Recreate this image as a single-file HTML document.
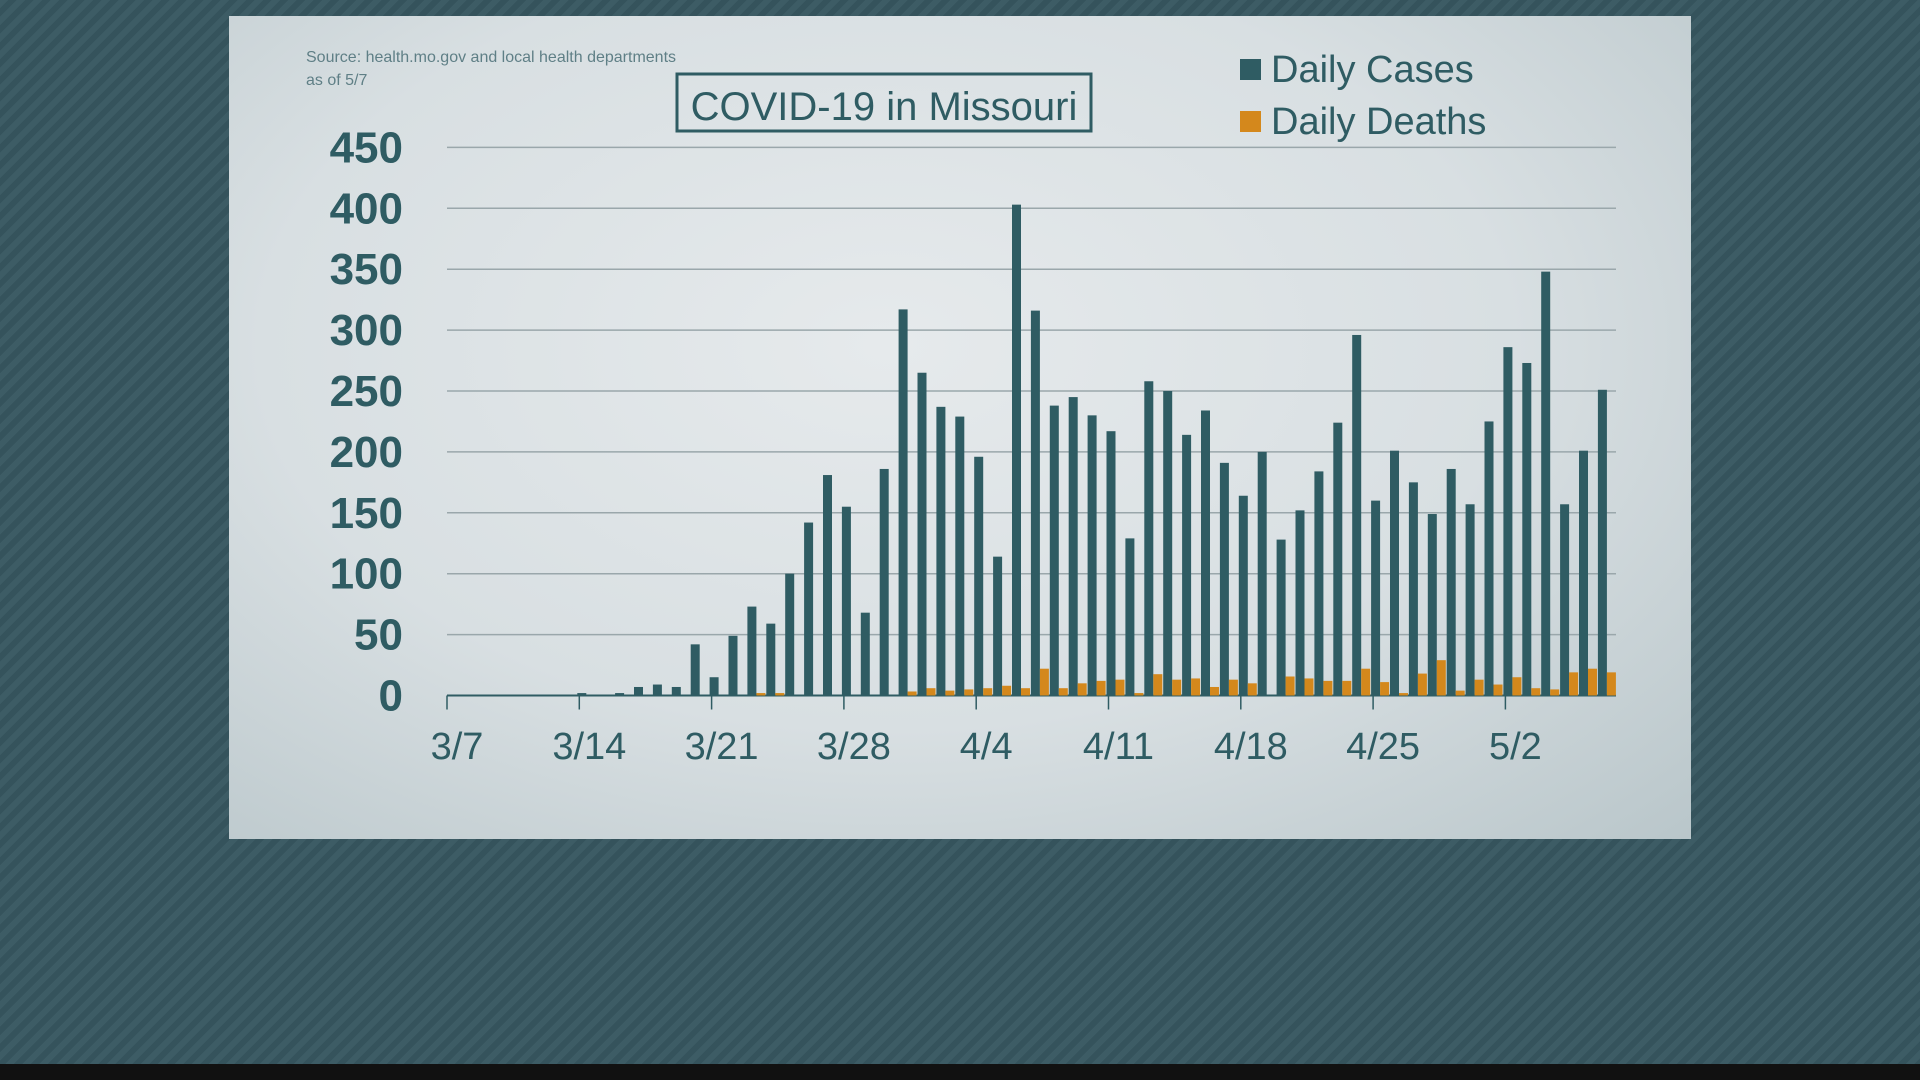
<!DOCTYPE html>
<html><head><meta charset="utf-8"><style>
html,body{margin:0;padding:0;width:1920px;height:1080px;overflow:hidden;font-family:"Liberation Sans",sans-serif}
body{background:repeating-linear-gradient(135deg,#3d5c65 0 6px,#35535c 6px 12px);}
#bottom{position:absolute;left:0;top:1064px;width:1920px;height:16px;background:#111}
#panel{position:absolute;left:229px;top:16px;width:1462px;height:823px;
background:radial-gradient(ellipse at 45% 40%,#e6eaec 0%,#d8dfe2 55%,#b9c6ca 100%);}
svg{position:absolute;left:0;top:0}
</style></head><body>
<div id="bottom"></div>
<div id="panel"></div>
<svg id="s" width="1920" height="1080" xmlns="http://www.w3.org/2000/svg">
<g font-family="Liberation Sans, sans-serif">
<text x="306" y="62" font-size="16" fill="#5f7f86">Source: health.mo.gov and local health departments</text>
<text x="306" y="85" font-size="16" fill="#5f7f86">as of 5/7</text>
<rect x="677" y="74" width="414" height="57" fill="none" stroke="#2f5c63" stroke-width="3"/>
<text x="884" y="120" font-size="40" fill="#2f5c63" text-anchor="middle">COVID-19 in Missouri</text>
<rect x="1240" y="59" width="21" height="21" fill="#2f5c63"/>
<text x="1271" y="82" font-size="38" fill="#2f5c63">Daily Cases</text>
<rect x="1240" y="111" width="21" height="21" fill="#d4881c"/>
<text x="1271" y="134" font-size="38" fill="#2f5c63">Daily Deaths</text>
<g id="grid"></g><g id="bars"></g><g id="lab" font-size="44" font-weight="bold" fill="#2f5c63"></g>
</g></svg>
<script>
var ns="http://www.w3.org/2000/svg";
function el(p,t,a,txt){var e=document.createElementNS(ns,t);for(var k in a)e.setAttribute(k,a[k]);if(txt!=null)e.textContent=txt;document.getElementById(p).appendChild(e);}
var y0=695.5,k=1.218,x0=447,d=18.9;
for(var v=0;v<=450;v+=50){var y=y0-v*k;
 if(v>0)el("grid","line",{x1:447,x2:1616,y1:y,y2:y,stroke:"#9aa7ab","stroke-width":1.5});
 el("lab","text",{x:403,y:y+15,"text-anchor":"end"},v);}
el("grid","line",{x1:447,x2:1616,y1:y0,y2:y0,stroke:"#2f5c63","stroke-width":2});
var labs=["3/7","3/14","3/21","3/28","4/4","4/11","4/18","4/25","5/2"];
for(var i=0;i<9;i++){var x=x0+i*7*d;
 el("grid","line",{x1:x,x2:x,y1:y0,y2:y0+14,stroke:"#2f5c63","stroke-width":1.5});
 el("lab","text",{x:x+10,y:759,"text-anchor":"middle","font-size":"38","font-weight":"normal"},labs[i]);}
var cases={7:2,9:2};
var cl=[7,9,7,42,15,49,73,59,100,142,181,155,68,186,317,265,237,229,196,114,403,316,238,245,230,217,129,258,250,214,234,191,164,200,128,152,184,224,296,160,201,175,149,186,157,225,286,273,348,157,201,251];
for(var i=0;i<cl.length;i++)cases[10+i]=cl[i];
var deaths={16:2,17:2};
var dl=[3.3,6,4,5,6,8,6,22,6,10,12,13,2,17.5,13,14,7,13,10,0,15.6,14,12,12,22,11,2,18,29,4,13,9,15,6,5,19,22,19];
for(var i=0;i<dl.length;i++)deaths[24+i]=dl[i];
for(var i in cases){var h=cases[i]*k;el("bars","rect",{x:x0-2+i*d,y:y0-h,width:9,height:h,fill:"#2f5c63"});}
for(var i in deaths){var h=deaths[i]*k;el("bars","rect",{x:x0+7+i*d,y:y0-h,width:9,height:h,fill:"#d4881c"});}
</script>
</body></html>
